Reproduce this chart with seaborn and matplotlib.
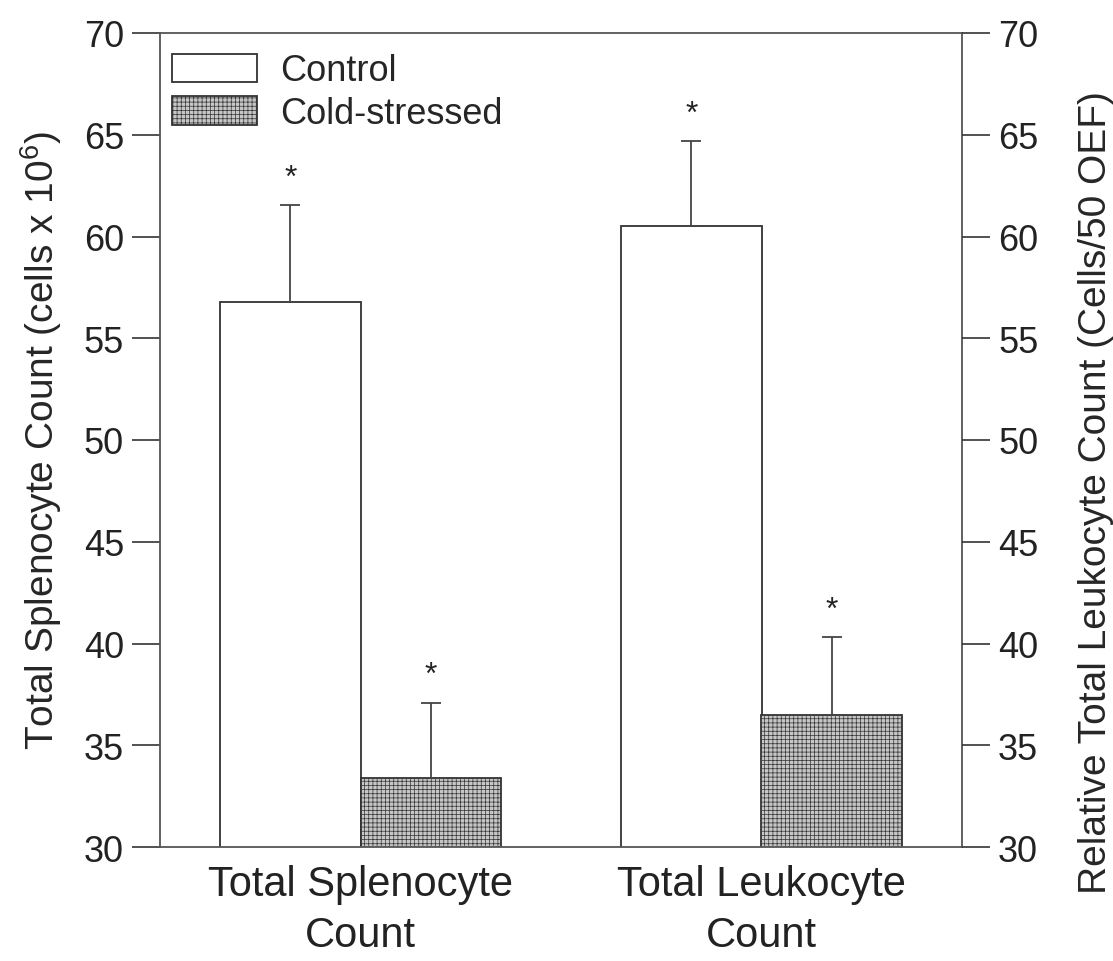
import matplotlib
matplotlib.use("Agg")
import matplotlib.pyplot as plt
import seaborn as sns
import pandas as pd

categories = ["Total Splenocyte\nCount", "Total Leukocyte\nCount"]
groups = ["Control", "Cold-stressed"]
means_control = [56.8, 60.5]
means_cold = [33.4, 36.5]
err_control = [4.75, 4.2]
err_cold = [3.7, 3.8]
y_ticks = [30, 35, 40, 45, 50, 55, 60, 65, 70]

sns.set_theme(style="ticks")
plt.rcParams['font.family'] = ['Liberation Sans', 'DejaVu Sans']
plt.rcParams['mathtext.fontset'] = 'custom'
plt.rcParams['mathtext.rm'] = 'Liberation Sans'
plt.rcParams['mathtext.it'] = 'Liberation Sans'
plt.rcParams['hatch.color'] = '#9a9a9a'
plt.rcParams['hatch.linewidth'] = 0.5

df = pd.DataFrame({
    "category": categories * 2,
    "group": [groups[0]] * 2 + [groups[1]] * 2,
    "value": means_control + means_cold,
})
errs = {groups[0]: err_control, groups[1]: err_cold}

fig = plt.figure(figsize=(11.13, 9.62), dpi=100)
ax = fig.add_axes([160/1113, 1 - 848/962, 802/1113, 814/962])

sns.barplot(data=df, x="category", y="value", hue="group", hue_order=groups,
            palette={groups[0]: "white", groups[1]: "#c6c6c6"},
            edgecolor="#333333", linewidth=1.3, width=0.7, ax=ax,
            errorbar=None, legend=True)

for cont, g in zip(ax.containers, groups):
    for bar, e in zip(cont, errs[g]):
        if g == groups[1]:
            bar.set_hatch("++++")
        xc = bar.get_x() + bar.get_width() / 2
        top = bar.get_height() + bar.get_y()
        ax.errorbar([xc], [top], yerr=[[0], [e]], fmt="none", ecolor="#444444",
                    elinewidth=1.3, capsize=7, capthick=1.3)
        ax.text(xc, top + e + 0.6, "*", ha="center", va="bottom", fontsize=23,
                color="#222222")

ax.set_xlim(-0.5, 1.5)
ax.set_ylim(30, 70)
ax.set_yticks(y_ticks)
ax.set_xlabel("")
ax.set_ylabel(r"Total Splenocyte Count (cells x 10$^6$)", fontsize=28, labelpad=14)
ax.tick_params(axis="y", labelsize=26, length=20, width=1.2, direction="out", pad=6,
               colors="#333333", labelcolor="#222222")
ax.tick_params(axis="x", length=0, labelsize=30, pad=12, labelcolor="#222222")
for lab in ax.get_xticklabels():
    lab.set_linespacing(1.35)
for sp in ax.spines.values():
    sp.set_visible(True)
    sp.set_linewidth(1.3)
    sp.set_color("#555555")

ax2 = ax.twinx()
ax2.set_ylim(30, 70)
ax2.set_yticks(y_ticks)
ax2.tick_params(axis="y", labelsize=26, length=20, width=1.2, direction="out", pad=6,
                colors="#333333", labelcolor="#222222")
ax2.set_ylabel("Relative Total Leukocyte Count (Cells/50 OEF)", fontsize=28)
ax2.yaxis.set_label_coords(1.145, 0.437)
for sp in ax2.spines.values():
    sp.set_visible(False)

leg = ax.legend(loc="upper left", bbox_to_anchor=(-0.007, 0.997), frameon=False,
                fontsize=26, handlelength=2.35, handleheight=0.85, handletextpad=0.62,
                labelspacing=0.2, borderaxespad=0.1)
for h in leg.legend_handles:
    h.set_edgecolor("#333333")
    h.set_linewidth(1.3)
leg.legend_handles[1].set_hatch("++++")

fig.savefig("out.png", dpi=100)
